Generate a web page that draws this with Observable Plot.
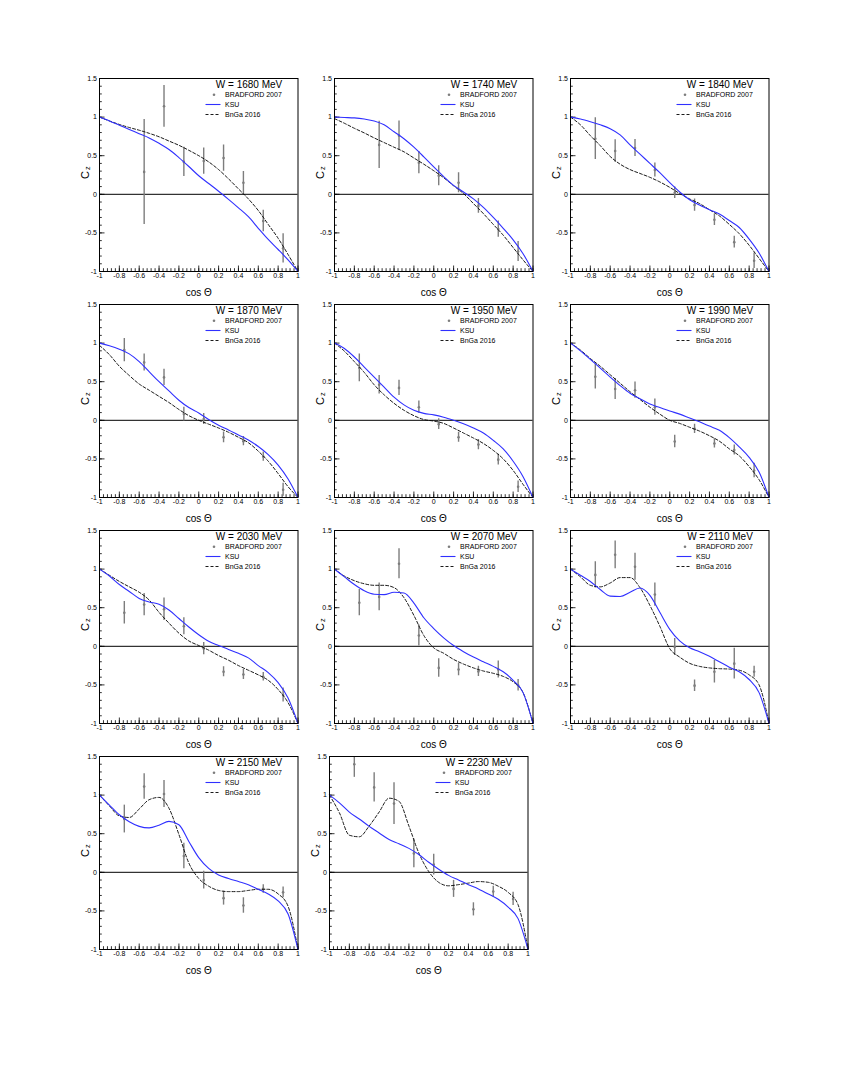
<!DOCTYPE html>
<html><head><meta charset="utf-8">
<script src="https://cdn.jsdelivr.net/npm/d3@7"></script>
<script src="https://cdn.jsdelivr.net/npm/@observablehq/plot@0.6"></script>
<style>
body{margin:0;background:#fff;}
#page{position:relative;width:842px;height:1089px;background:#fff;font-family:"Liberation Sans",Arial,sans-serif;}
.panel{position:absolute;}
</style></head><body><div id="page"></div>
<script>
// ---------- data ----------
const energies = [1680, 1740, 1840, 1870, 1950, 1990, 2030, 2070, 2110, 2150, 2230];
const legendLabels = ["BRADFORD 2007", "KSU", "BnGa 2016"];
const xTickLabels = [-1, -0.8, -0.6, -0.4, -0.2, 0, 0.2, 0.4, 0.6, 0.8, 1];
const yTickLabels = [-1, -0.5, 0, 0.5, 1, 1.5];

// model curves sampled on this cos(theta) grid
const cosGrid = [-1, -0.9, -0.8, -0.7, -0.6, -0.5, -0.4, -0.3, -0.2, -0.1, 0, 0.1, 0.2, 0.3, 0.4, 0.5, 0.6, 0.7, 0.8, 0.9, 1];
// BRADFORD 2007 data bins
const dataCos = [-0.75, -0.55, -0.35, -0.15, 0.05, 0.25, 0.45, 0.65, 0.85];

const bradfordCz = [
  [null, 0.29, 1.14, 0.42, 0.43, 0.47, 0.15, -0.345, -0.70],
  [null, 0.64, 0.76, 0.41, 0.24, 0.15, -0.15, -0.45, -0.74],
  [0.72, 0.56, 0.60, 0.315, 0.02, -0.14, -0.33, -0.62, -0.86],
  [0.91, 0.75, 0.556, 0.08, 0.017, -0.22, -0.27, -0.47, -0.90],
  [0.68, 0.46, 0.42, 0.17, -0.05, -0.22, -0.315, -0.51, -0.86],
  [0.565, 0.405, 0.39, 0.17, -0.275, -0.11, -0.30, -0.385, -0.65],
  [0.435, 0.54, 0.48, 0.26, -0.03, -0.33, -0.365, -0.395, -0.63],
  [0.565, 0.64, 1.07, 0.14, -0.28, -0.30, -0.325, -0.30, -0.505],
  [0.925, 1.185, 1.03, 0.67, -0.01, -0.51, -0.33, -0.225, -0.33],
  [0.69, 1.11, 1.015, 0.21, -0.10, -0.335, -0.43, -0.215, -0.26],
  [1.40, 1.10, 0.89, 0.245, 0.10, -0.215, -0.48, -0.25, -0.345]
];
const bradfordErr = [
  [null, 0.68, 0.27, 0.19, 0.17, 0.17, 0.145, 0.14, 0.19],
  [null, 0.305, 0.19, 0.145, 0.13, 0.13, 0.095, 0.105, 0.13],
  [0.27, 0.145, 0.11, 0.09, 0.075, 0.08, 0.075, 0.075, 0.10],
  [0.15, 0.11, 0.105, 0.09, 0.07, 0.07, 0.06, 0.06, 0.085],
  [0.18, 0.12, 0.10, 0.08, 0.07, 0.065, 0.065, 0.07, 0.075],
  [0.16, 0.135, 0.105, 0.105, 0.08, 0.06, 0.06, 0.065, 0.095],
  [0.145, 0.145, 0.145, 0.11, 0.08, 0.065, 0.065, 0.055, 0.09],
  [0.17, 0.18, 0.195, 0.135, 0.12, 0.08, 0.065, 0.11, 0.075],
  [0.17, 0.18, 0.175, 0.15, 0.11, 0.075, 0.145, 0.20, 0.07],
  [0.18, 0.165, 0.175, 0.165, 0.115, 0.09, 0.10, 0.055, 0.07],
  [0.17, 0.19, 0.27, 0.185, 0.135, 0.11, 0.085, 0.07, 0.085]
];
const ksuCz = [
  [1.0, 0.95, 0.895, 0.84, 0.785, 0.73, 0.66, 0.58, 0.475, 0.36, 0.24, 0.14, 0.04, -0.065, -0.175, -0.29, -0.44, -0.585, -0.715, -0.85, -1.0],
  [1.0, 0.995, 0.99, 0.975, 0.95, 0.90, 0.81, 0.72, 0.61, 0.485, 0.355, 0.23, 0.115, 0.03, -0.06, -0.17, -0.30, -0.44, -0.59, -0.77, -1.0],
  [1.0, 0.975, 0.94, 0.90, 0.85, 0.77, 0.64, 0.52, 0.40, 0.28, 0.15, 0.03, -0.07, -0.14, -0.20, -0.255, -0.34, -0.43, -0.58, -0.76, -1.0],
  [1.0, 0.965, 0.92, 0.86, 0.76, 0.63, 0.50, 0.38, 0.26, 0.165, 0.095, 0.01, -0.065, -0.125, -0.19, -0.255, -0.34, -0.445, -0.58, -0.76, -1.0],
  [1.0, 0.93, 0.82, 0.69, 0.56, 0.43, 0.30, 0.20, 0.13, 0.09, 0.07, 0.04, 0.0, -0.045, -0.10, -0.165, -0.26, -0.37, -0.53, -0.73, -1.0],
  [1.0, 0.90, 0.79, 0.675, 0.56, 0.45, 0.35, 0.28, 0.21, 0.165, 0.12, 0.08, 0.03, -0.02, -0.075, -0.13, -0.225, -0.345, -0.48, -0.67, -1.0],
  [1.0, 0.91, 0.80, 0.71, 0.62, 0.575, 0.545, 0.47, 0.36, 0.25, 0.15, 0.065, 0.01, -0.04, -0.09, -0.15, -0.25, -0.34, -0.47, -0.67, -1.0],
  [1.0, 0.90, 0.80, 0.72, 0.675, 0.67, 0.70, 0.69, 0.56, 0.37, 0.23, 0.11, 0.01, -0.07, -0.14, -0.20, -0.26, -0.33, -0.44, -0.60, -1.0],
  [1.0, 0.92, 0.84, 0.735, 0.65, 0.645, 0.70, 0.755, 0.66, 0.44, 0.22, 0.07, -0.02, -0.07, -0.13, -0.20, -0.27, -0.33, -0.43, -0.60, -1.0],
  [1.0, 0.87, 0.745, 0.655, 0.595, 0.575, 0.61, 0.66, 0.615, 0.40, 0.19, 0.05, -0.035, -0.08, -0.12, -0.16, -0.22, -0.28, -0.37, -0.54, -1.0],
  [1.0, 0.90, 0.78, 0.69, 0.595, 0.51, 0.425, 0.37, 0.31, 0.23, 0.13, 0.04, -0.04, -0.10, -0.16, -0.215, -0.28, -0.35, -0.45, -0.60, -1.0]
];
const bngaCz = [
  [1.0, 0.95, 0.905, 0.865, 0.83, 0.79, 0.745, 0.69, 0.635, 0.57, 0.50, 0.42, 0.32, 0.20, 0.07, -0.06, -0.21, -0.39, -0.57, -0.78, -1.0],
  [0.98, 0.92, 0.855, 0.795, 0.73, 0.67, 0.61, 0.55, 0.47, 0.39, 0.305, 0.215, 0.11, 0.01, -0.12, -0.25, -0.39, -0.53, -0.69, -0.85, -1.0],
  [1.0, 0.90, 0.76, 0.63, 0.49, 0.39, 0.32, 0.27, 0.22, 0.16, 0.09, 0.01, -0.06, -0.12, -0.20, -0.28, -0.39, -0.51, -0.66, -0.83, -1.0],
  [0.97, 0.85, 0.70, 0.58, 0.47, 0.39, 0.31, 0.23, 0.14, 0.06, 0.0, -0.05, -0.10, -0.155, -0.22, -0.29, -0.40, -0.53, -0.69, -0.86, -1.0],
  [1.0, 0.895, 0.76, 0.62, 0.46, 0.33, 0.22, 0.13, 0.06, 0.01, -0.01, -0.04, -0.10, -0.165, -0.23, -0.30, -0.39, -0.50, -0.65, -0.83, -1.0],
  [1.0, 0.91, 0.80, 0.70, 0.59, 0.48, 0.37, 0.27, 0.17, 0.08, 0.0, -0.04, -0.09, -0.14, -0.20, -0.27, -0.37, -0.46, -0.60, -0.77, -1.0],
  [1.0, 0.92, 0.84, 0.77, 0.70, 0.60, 0.44, 0.30, 0.17, 0.07, 0.01, -0.05, -0.12, -0.18, -0.25, -0.31, -0.37, -0.44, -0.56, -0.73, -1.0],
  [1.0, 0.91, 0.85, 0.81, 0.79, 0.79, 0.76, 0.63, 0.40, 0.14, -0.02, -0.09, -0.17, -0.23, -0.28, -0.32, -0.35, -0.39, -0.46, -0.60, -1.0],
  [1.0, 0.90, 0.79, 0.77, 0.82, 0.89, 0.89, 0.76, 0.53, 0.26, -0.03, -0.14, -0.22, -0.26, -0.28, -0.29, -0.295, -0.31, -0.37, -0.50, -1.0],
  [1.0, 0.86, 0.73, 0.71, 0.82, 0.94, 0.97, 0.83, 0.49, 0.12, -0.08, -0.18, -0.235, -0.25, -0.25, -0.235, -0.22, -0.22, -0.28, -0.44, -1.0],
  [1.0, 0.77, 0.48, 0.46, 0.60, 0.78, 0.96, 0.92, 0.60, 0.25, 0.01, -0.13, -0.175, -0.16, -0.14, -0.12, -0.13, -0.18, -0.26, -0.42, -1.0]
];

// ---------- layout (frame left / top in page pixels) ----------
const frames = [
  [99, 77.7], [334, 77.7], [570, 77.7],
  [99, 304], [334, 304], [570, 304],
  [99, 530], [334, 530], [570, 530],
  [99, 756], [329, 756]
];
const IW = 198.5, IH = 193;
const ML = 32, MR = 8, MT = 6, MB = 30;
const BLUE = "#3030ff", GREY = "#7d7d7d";
const FONT = "'Liberation Sans', Arial, Helvetica, sans-serif";

const xMinor = d3.range(-1, 1.0001, 0.04);
const yMinor = d3.range(-1, 1.5001, 0.1);
const page = document.getElementById("page");

const txt = (s, o) => Plot.text([s], {text: d => d, lineAnchor: "middle", ...o});

energies.forEach((W, i) => {
  const pts = dataCos.map((c, j) => ({c, v: bradfordCz[i][j], e: bradfordErr[i][j]})).filter(d => d.v != null);
  const ksu = cosGrid.map((c, j) => ({c, v: ksuCz[i][j]}));
  const bn = cosGrid.map((c, j) => ({c, v: bngaCz[i][j]}));

  const chart = Plot.plot({
    width: ML + IW + MR, height: MT + IH + MB,
    marginLeft: ML, marginRight: MR, marginTop: MT, marginBottom: MB,
    style: {background: "transparent", fontFamily: FONT, fontSize: "7px", overflow: "visible", maxWidth: "none", color: "#000"},
    x: {domain: [-1, 1], ticks: xTickLabels, tickSize: 0, tickPadding: 1.5, tickFormat: d => String(d), label: null},
    y: {domain: [-1, 1.5], ticks: yTickLabels, tickSize: 0, tickPadding: 2.5, tickFormat: d => String(d), label: null},
    marks: [
      Plot.ruleY([0], {stroke: "#000", strokeWidth: 1}),
      Plot.tickX(xMinor, {x: d => d, insetTop: IH - 2.8, stroke: "#000", strokeWidth: 0.8}),
      Plot.tickX(xTickLabels, {x: d => d, insetTop: IH - 5.5, stroke: "#000", strokeWidth: 0.8}),
      Plot.tickY(yMinor, {y: d => d, insetRight: IW - 2.8, stroke: "#000", strokeWidth: 0.8}),
      Plot.tickY(yTickLabels, {y: d => d, insetRight: IW - 5.5, stroke: "#000", strokeWidth: 0.8}),
      Plot.ruleX(pts, {x: "c", y1: d => d.v - d.e, y2: d => d.v + d.e, stroke: GREY, strokeWidth: 1.4, clip: true}),
      Plot.dot(pts, {x: "c", y: "v", r: 1.3, fill: GREY, stroke: null}),
      Plot.line(bn, {x: "c", y: "v", stroke: "#000", strokeWidth: 0.9, strokeDasharray: "3,2", curve: "monotone-x"}),
      Plot.line(ksu, {x: "c", y: "v", stroke: BLUE, strokeWidth: 1.1, curve: "monotone-x"}),
      Plot.frame({stroke: "#000", strokeWidth: 1}),
      // legend
      txt(`W = ${W} MeV`, {frameAnchor: "top-right", dx: -49, dy: 6.5, textAnchor: "middle", fontSize: 10}),
      Plot.dot([legendLabels[0]], {frameAnchor: "top-right", dx: -84, dy: 16.3, r: 1.3, fill: GREY, stroke: null}),
      txt(legendLabels[0], {frameAnchor: "top-right", dx: -73, dy: 16.3, textAnchor: "start", fontSize: 7}),
      Plot.ruleY([1.5], {dy: 26, insetLeft: IW - 92, insetRight: 77, stroke: BLUE, strokeWidth: 1.1}),
      txt(legendLabels[1], {frameAnchor: "top-right", dx: -73, dy: 26, textAnchor: "start", fontSize: 7}),
      Plot.ruleY([1.5], {dy: 36, insetLeft: IW - 92, insetRight: 77, stroke: "#000", strokeWidth: 0.9, strokeDasharray: "3,2"}),
      txt(legendLabels[2], {frameAnchor: "top-right", dx: -73, dy: 36, textAnchor: "start", fontSize: 7}),
      // axis titles
      txt("cos Θ", {frameAnchor: "bottom", dy: 21, textAnchor: "middle", fontSize: 10}),
      txt("C", {frameAnchor: "left", dx: -14.5, rotate: -90, textAnchor: "middle", fontSize: 11}),
      txt("z", {frameAnchor: "left", dx: -12, dy: -7, rotate: -90, textAnchor: "middle", fontSize: 7.5})
    ]
  });
  const div = document.createElement("div");
  div.className = "panel";
  div.style.left = (frames[i][0] - ML) + "px";
  div.style.top = (frames[i][1] - MT) + "px";
  div.style.width = (ML + IW + MR) + "px";
  div.appendChild(chart);
  page.appendChild(div);
});
</script>
</body></html>
